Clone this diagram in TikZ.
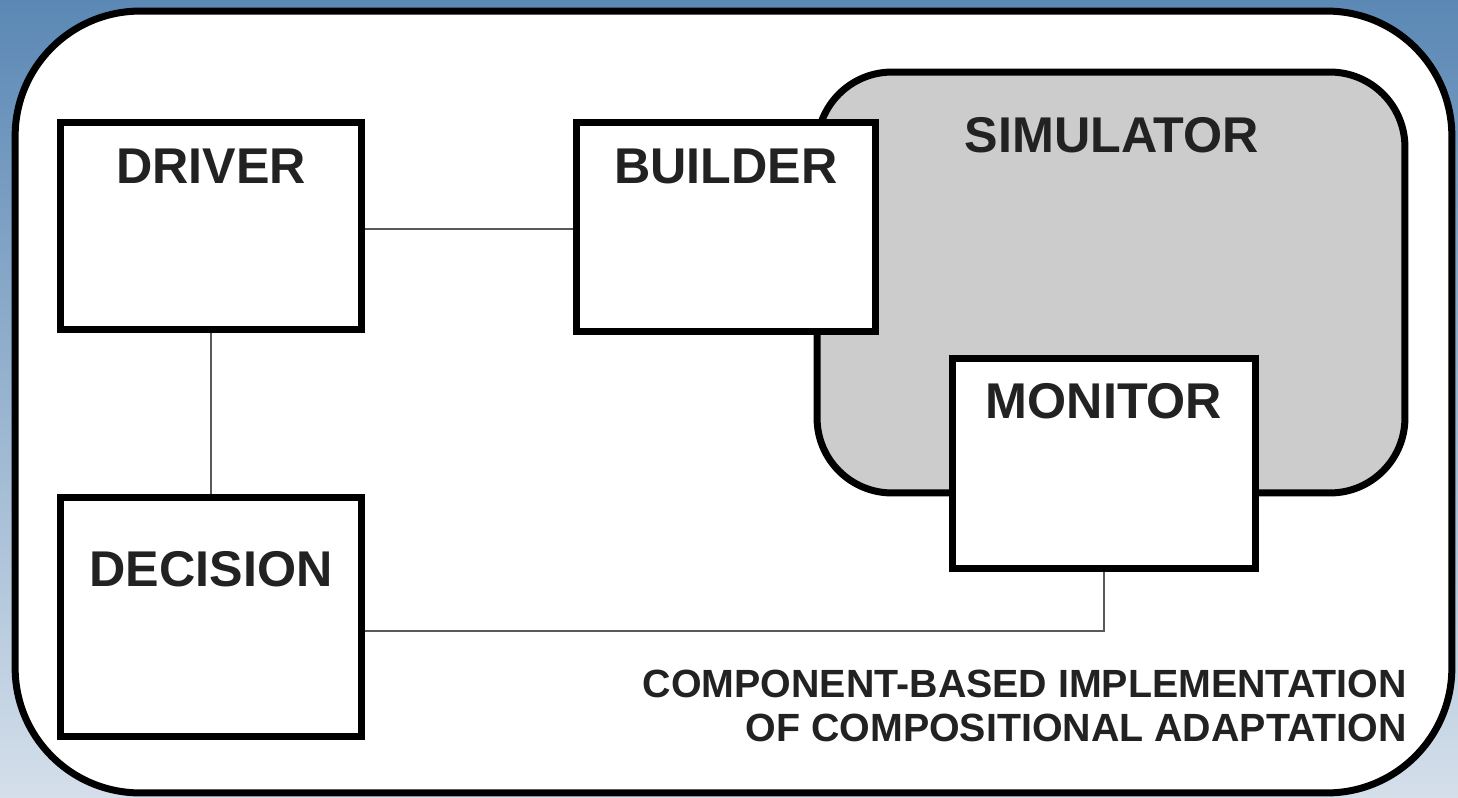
\documentclass[tikz,border=0pt]{standalone}
\usepackage{fontspec}
\setmainfont{Liberation Sans}
\usetikzlibrary{positioning,calc}

\definecolor{skytop}{RGB}{91,136,181}
\definecolor{skybot}{RGB}{212,223,234}
\definecolor{simgray}{RGB}{204,204,204}
\definecolor{inkgray}{RGB}{34,34,34}

\pgfdeclarelayer{back}
\pgfdeclarelayer{wires}
\pgfsetlayers{back,wires,main}

\begin{document}
\begin{tikzpicture}[x=0.02cm, y=-0.02cm,
  frame/.style={draw, line width=0.14cm, fill=white, rounded corners=2.5cm, inner sep=0pt},
  sim/.style={frame, fill=simgray, rounded corners=1.5cm},
  blk/.style={draw, line width=0.14cm, fill=white, inner sep=0pt},
  ttl/.style={anchor=base, text=inkgray, font=\fontsize{28.6}{34}\selectfont\bfseries, inner sep=0pt},
  note/.style={anchor=base east, align=right, text=inkgray, font=\fontsize{22.4}{25}\selectfont\bfseries, inner sep=0pt},
  wire/.style={draw=black!65, line width=0.03cm}]
  % background
  \begin{pgfonlayer}{back}
    \shade[top color=skytop, bottom color=skybot] (0,0) rectangle (1458,798);
    \node[frame, minimum width=28.74cm, minimum height=15.64cm] (outer) at (733.5,402) {};
    \node[sim, minimum width=11.76cm, minimum height=8.42cm] (simulator) at (1111,282.5) {};
  \end{pgfonlayer}
  \useasboundingbox (0,0) rectangle (1458,798);
  \node[ttl] (simtxt) at (1112,152) {SIMULATOR};

  % components
  \node[blk, minimum width=6.04cm, minimum height=4.16cm] (driver) at (211,226) {};
  \node[blk, minimum width=6.0cm, minimum height=4.2cm] (builder) at (726,227) {};
  \node[blk, minimum width=6.04cm, minimum height=4.8cm] (decision) at (211,617) {};
  \node[blk, minimum width=6.08cm, minimum height=4.22cm] (monitor) at (1104,463.5) {};

  \node[ttl] (drivertxt) at (211,183) {DRIVER};
  \node[ttl] (buildertxt) at (726,183) {BUILDER};
  \node[ttl] (monitortxt) at (1104,418) {MONITOR};
  \node[ttl] (decisiontxt) at (211,586) {DECISION};

  % connectors
  \begin{pgfonlayer}{wires}
    \coordinate (bend) at (monitor.south |- 0,631);
    \draw[wire] ([yshift=-0.06cm]driver.east) -- ([yshift=-0.06cm]driver.east -| builder.west);
    \draw[wire] (driver.south) -- (driver.south |- decision.north);
    \draw[wire] (decision.east |- bend) -- (bend) -- (monitor.south);
  \end{pgfonlayer}

  \node[note] (caption) at (1407,741) {COMPONENT-BASED IMPLEMENTATION\\OF COMPOSITIONAL ADAPTATION};
\end{tikzpicture}
\end{document}
